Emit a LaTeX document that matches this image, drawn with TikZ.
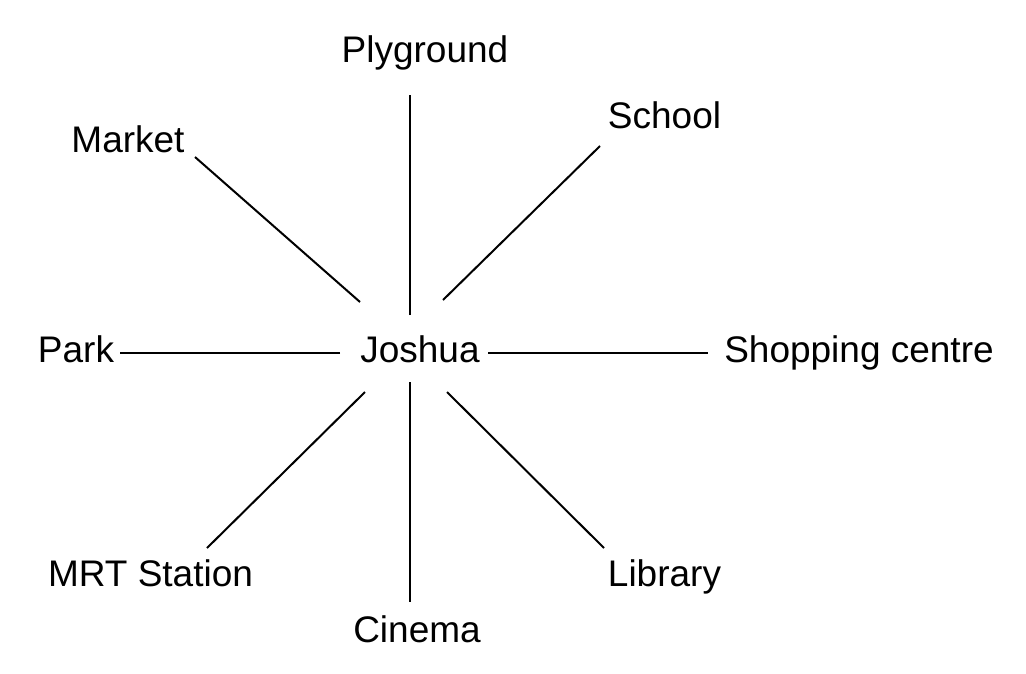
\documentclass[tikz,border=0pt]{standalone}
\usepackage{fontspec}
\setmainfont{Liberation Sans}
\begin{document}
\begin{tikzpicture}[x=1pt,y=-1pt,
  lbl/.style={anchor=base,inner sep=0pt,font=\fontsize{37}{40}\selectfont},
  conn/.style={line width=2pt,black}]
\useasboundingbox (0,0) rectangle (1026,673);
\node[lbl] (joshua) at (420,362) {Joshua};
\node[lbl] (plyground) at (425,62) {Plyground};
\node[lbl] (market) at (128,152) {Market};
\node[lbl] (school) at (664.5,128) {School};
\node[lbl] (park) at (76,362) {Park};
\node[lbl] (shopping) at (859,362) {Shopping centre};
\node[lbl] (mrt) at (150.5,586) {MRT Station};
\node[lbl] (cinema) at (417,642) {Cinema};
\node[lbl] (library) at (664.5,586) {Library};
% line end points
\coordinate (pA) at (410,95);   \coordinate (jA) at (410,315);
\coordinate (mA) at (195,157);  \coordinate (jM) at (360,302);
\coordinate (sA) at (600,146);  \coordinate (jS) at (443,300);
\coordinate (kA) at (120,353);  \coordinate (jK) at (340,353);
\coordinate (hA) at (708,353);  \coordinate (jH) at (488,353);
\coordinate (rA) at (207,548);  \coordinate (jR) at (365,392);
\coordinate (cA) at (410,602);  \coordinate (jC) at (410,382);
\coordinate (lA) at (604,548);  \coordinate (jL) at (447,392);
\draw[conn] (jA) -- (pA);
\draw[conn] (jM) -- (mA);
\draw[conn] (jS) -- (sA);
\draw[conn] (jK) -- (kA);
\draw[conn] (jH) -- (hA);
\draw[conn] (jR) -- (rA);
\draw[conn] (jC) -- (cA);
\draw[conn] (jL) -- (lA);
\end{tikzpicture}
\end{document}
